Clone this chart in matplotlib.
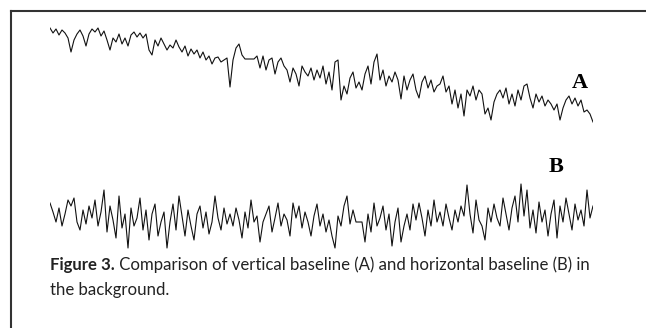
import numpy as np
import matplotlib
matplotlib.use("Agg")
import matplotlib.pyplot as plt
from matplotlib.lines import Line2D

# trace readings, downward deflection (one sample every ~3 px)
trace_a = [
    28, 33, 29, 35, 30, 33, 38, 52, 40, 34,
    30, 36, 46, 34, 29, 32, 28, 36, 31, 40,
    50, 38, 42, 34, 44, 38, 46, 35, 32, 37,
    33, 38, 34, 50, 55, 40, 46, 38, 44, 50,
    45, 48, 40, 47, 52, 46, 56, 49, 54, 50,
    58, 52, 60, 56, 64, 58, 57, 62, 60, 58,
    87, 60, 48, 44, 55, 59, 59, 59, 59, 56,
    68, 56, 70, 60, 58, 74, 62, 58, 66, 70,
    82, 68, 74, 86, 66, 72, 76, 68, 80, 70,
    78, 66, 84, 72, 90, 62, 60, 100, 86, 94,
    78, 72, 88, 82, 90, 74, 66, 84, 62, 54,
    80, 70, 86, 76, 82, 72, 80, 99, 76, 90,
    80, 74, 90, 98, 82, 76, 88, 80, 92, 86,
    84, 76, 92, 86, 104, 90, 108, 94, 116, 90,
    96, 86, 100, 90, 94, 114, 108, 120, 102, 94,
    90, 98, 88, 104, 94, 106, 90, 100, 86, 84,
    98, 108, 94, 102, 96, 106, 100, 104, 110, 104,
    120, 108, 100, 96, 104, 98, 106, 100, 112, 110,
    114, 122,
]

trace_b = [
    203, 212, 222, 208, 226, 214, 200, 206, 198, 222,
    230, 210, 224, 206, 218, 200, 226, 212, 190, 232,
    206, 220, 238, 196, 228, 214, 248, 208, 226, 218,
    198, 230, 210, 240, 214, 204, 236, 222, 212, 248,
    222, 204, 230, 196, 216, 236, 210, 226, 240, 214,
    206, 228, 212, 234, 222, 196, 218, 230, 208, 224,
    214, 226, 208, 220, 238, 212, 228, 200, 222, 216,
    242, 222, 214, 206, 232, 218, 203, 226, 214, 220,
    236, 203, 218, 206, 228, 212, 222, 236, 216, 204,
    226, 214, 232, 220, 236, 248, 216, 226, 206, 196,
    224, 210, 222, 222, 222, 242, 214, 232, 203, 226,
    218, 206, 230, 214, 246, 222, 208, 242, 226, 214,
    230, 204, 220, 203, 218, 236, 210, 226, 200, 222,
    212, 226, 204, 218, 230, 210, 222, 206, 216, 185,
    214, 233, 200, 220, 226, 240, 208, 222, 204, 218,
    226, 198, 214, 230, 208, 196, 222, 184, 216, 190,
    228, 210, 233, 202, 222, 210, 236, 214, 200, 238,
    206, 222, 198, 214, 230, 204, 220, 210, 226, 190,
    218, 206,
]

labels = ["A", "B"]
caption_bold = "Figure 3."
caption_rest = " Comparison of vertical baseline (A) and horizontal baseline (B) in"
caption_line2 = "the background."

W, H = 646, 328
fig = plt.figure(figsize=(W / 100, H / 100), dpi=100)
fig.patch.set_facecolor("white")


def add_trace(vals, top, bottom):
    # axes spans pixel rows top..bottom, columns 50..593
    ax = fig.add_axes([50 / W, 1 - bottom / H, 543 / W, (bottom - top) / H])
    ax.plot(np.arange(len(vals)), vals, color="#111111", lw=0.8)
    ax.set_xlim(0, len(vals) - 1)
    ax.set_ylim(bottom, top)
    ax.axis("off")
    return ax


add_trace(trace_a, 18, 128)
add_trace(trace_b, 178, 254)

# frame (top and left edges)
fig.add_artist(Line2D([11 / W, 1], [1 - 11 / H, 1 - 11 / H], color="#333333", lw=1.5))
fig.add_artist(Line2D([11 / W, 11 / W], [0, 1 - 11 / H], color="#333333", lw=1.5))

# trace labels
fig.text(580 / W, 1 - 83 / H, labels[0], fontsize=16, fontweight="bold",
         family="Liberation Serif", ha="center", va="center")
fig.text(556 / W, 1 - 167 / H, labels[1], fontsize=16, fontweight="bold",
         family="Liberation Serif", ha="center", va="center")

# caption, sized so the first line spans ~540 px like the original
cap_font = "Lato"
fs = 12
t1 = fig.text(50 / W, 1 - 265 / H, caption_bold, fontsize=fs, fontweight="bold",
              family=cap_font, va="center", color="#222222")
t2 = fig.text(0, 1 - 265 / H, caption_rest, fontsize=fs,
              family=cap_font, va="center", color="#222222")
fig.canvas.draw()
width = t1.get_window_extent().width + t2.get_window_extent().width
fs = fs * 540 / width
t1.set_fontsize(fs)
t2.set_fontsize(fs)
fig.canvas.draw()
t2.set_x(t1.get_window_extent().x1 / W)
fig.text(50 / W, 1 - 290 / H, caption_line2, fontsize=fs,
         family=cap_font, va="center", color="#222222")

fig.savefig("out.png", dpi=100)
